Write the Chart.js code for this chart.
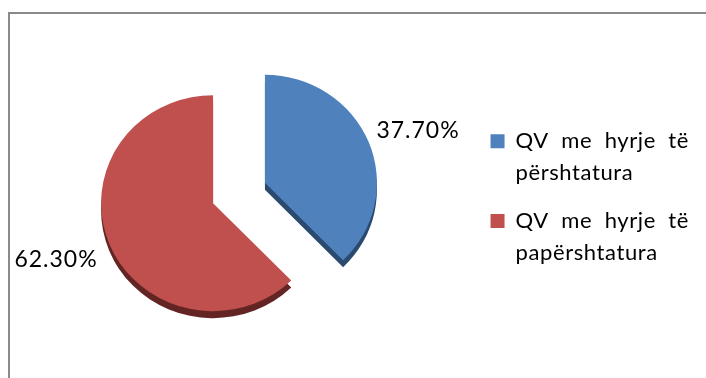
<!DOCTYPE html>
<html>
<head>
<meta charset="utf-8">
<title>QV</title>
<style>
  html, body { margin: 0; padding: 0; background: #fff; overflow: hidden; }
  #wrap { position: relative; width: 706px; height: 378px; }
  #frame { position: absolute; left: 8px; top: 12px; right: 0; bottom: 0; border-left: 2px solid #8a8a8a; border-top: 2px solid #8a8a8a; }
  #myChart { position: absolute; left: 0; top: 0; }
</style>
<script src="https://cdn.jsdelivr.net/npm/chart.js@4"></script>
</head>
<body>
<div id="wrap">
  <div id="frame"></div>
  <canvas id="myChart" width="706" height="378"></canvas>
</div>
<script>
const categories = [
  ['QV  me  hyrje  të', 'përshtatura'],
  ['QV  me  hyrje  të', 'papërshtatura']
];
const values = [37.7, 62.3];
const colors = ['#4F81BD', '#C0504D'];
const sideColors = ['#2A4A70', '#632523'];

// where the percentage labels sit (centre of text)
const labelAt = [[418, 131], [56, 260]];

const pieCenter = [239, 193];
const explode = 28;
const flatten = 108 / 112;
const depth = 7;
const fontName = 'Lato, Carlito, sans-serif';

// library arcs, moved out along the mid angle, squashed a bit and given a side
const tiltedPie = {
  id: 'tiltedPie',
  beforeLayout(chart) { chart.ctx.letterSpacing = '0.6px'; },
  beforeDraw(chart) { chart.ctx.letterSpacing = '0.6px'; },
  afterDatasetsUpdate(chart) {
    chart.getDatasetMeta(0).data.forEach((arc, i) => {
      if (arc.tilted) return;
      arc.tilted = true;
      const draw = arc.draw;
      arc.draw = function (ctx) {
        const mid = (this.startAngle + this.endAngle) / 2;
        ctx.save();
        ctx.translate(pieCenter[0] + Math.cos(mid) * explode, pieCenter[1] + Math.sin(mid) * explode * flatten);
        ctx.scale(1, flatten);
        ctx.translate(-this.x, -this.y);
        ctx.shadowColor = sideColors[i];
        ctx.shadowOffsetY = depth;
        ctx.shadowBlur = 0;
        draw.call(this, ctx);
        ctx.restore();
      };
    });
  }
};

const percentLabels = {
  id: 'percentLabels',
  afterDatasetsDraw(chart) {
    const ctx = chart.ctx;
    ctx.save();
    ctx.font = '23px ' + fontName;
    ctx.letterSpacing = '1px';
    ctx.fillStyle = '#000';
    ctx.textAlign = 'center';
    ctx.textBaseline = 'middle';
    values.forEach((v, i) => {
      ctx.fillText(v.toFixed(2) + '%', labelAt[i][0], labelAt[i][1]);
    });
    ctx.restore();
  }
};

var canva = document.getElementById('myChart');
var myChart = new Chart(canva, {
  type: 'pie',
  data: {
    labels: categories,
    datasets: [{
      data: values,
      backgroundColor: colors,
      borderWidth: 0,
      clip: false
    }]
  },
  options: {
    responsive: false,
    animation: false,
    events: [],
    radius: 112,
    layout: { padding: { left: 0, right: 7, top: 26, bottom: 0 } },
    plugins: {
      tooltip: { enabled: false },
      legend: {
        position: 'right',
        labels: {
          boxWidth: 14,
          boxHeight: 14,
          padding: 16,
          color: '#000',
          font: { family: fontName, size: 22, lineHeight: 1.45 }
        }
      }
    }
  },
  plugins: [tiltedPie, percentLabels]
});
</script>
</body>
</html>
